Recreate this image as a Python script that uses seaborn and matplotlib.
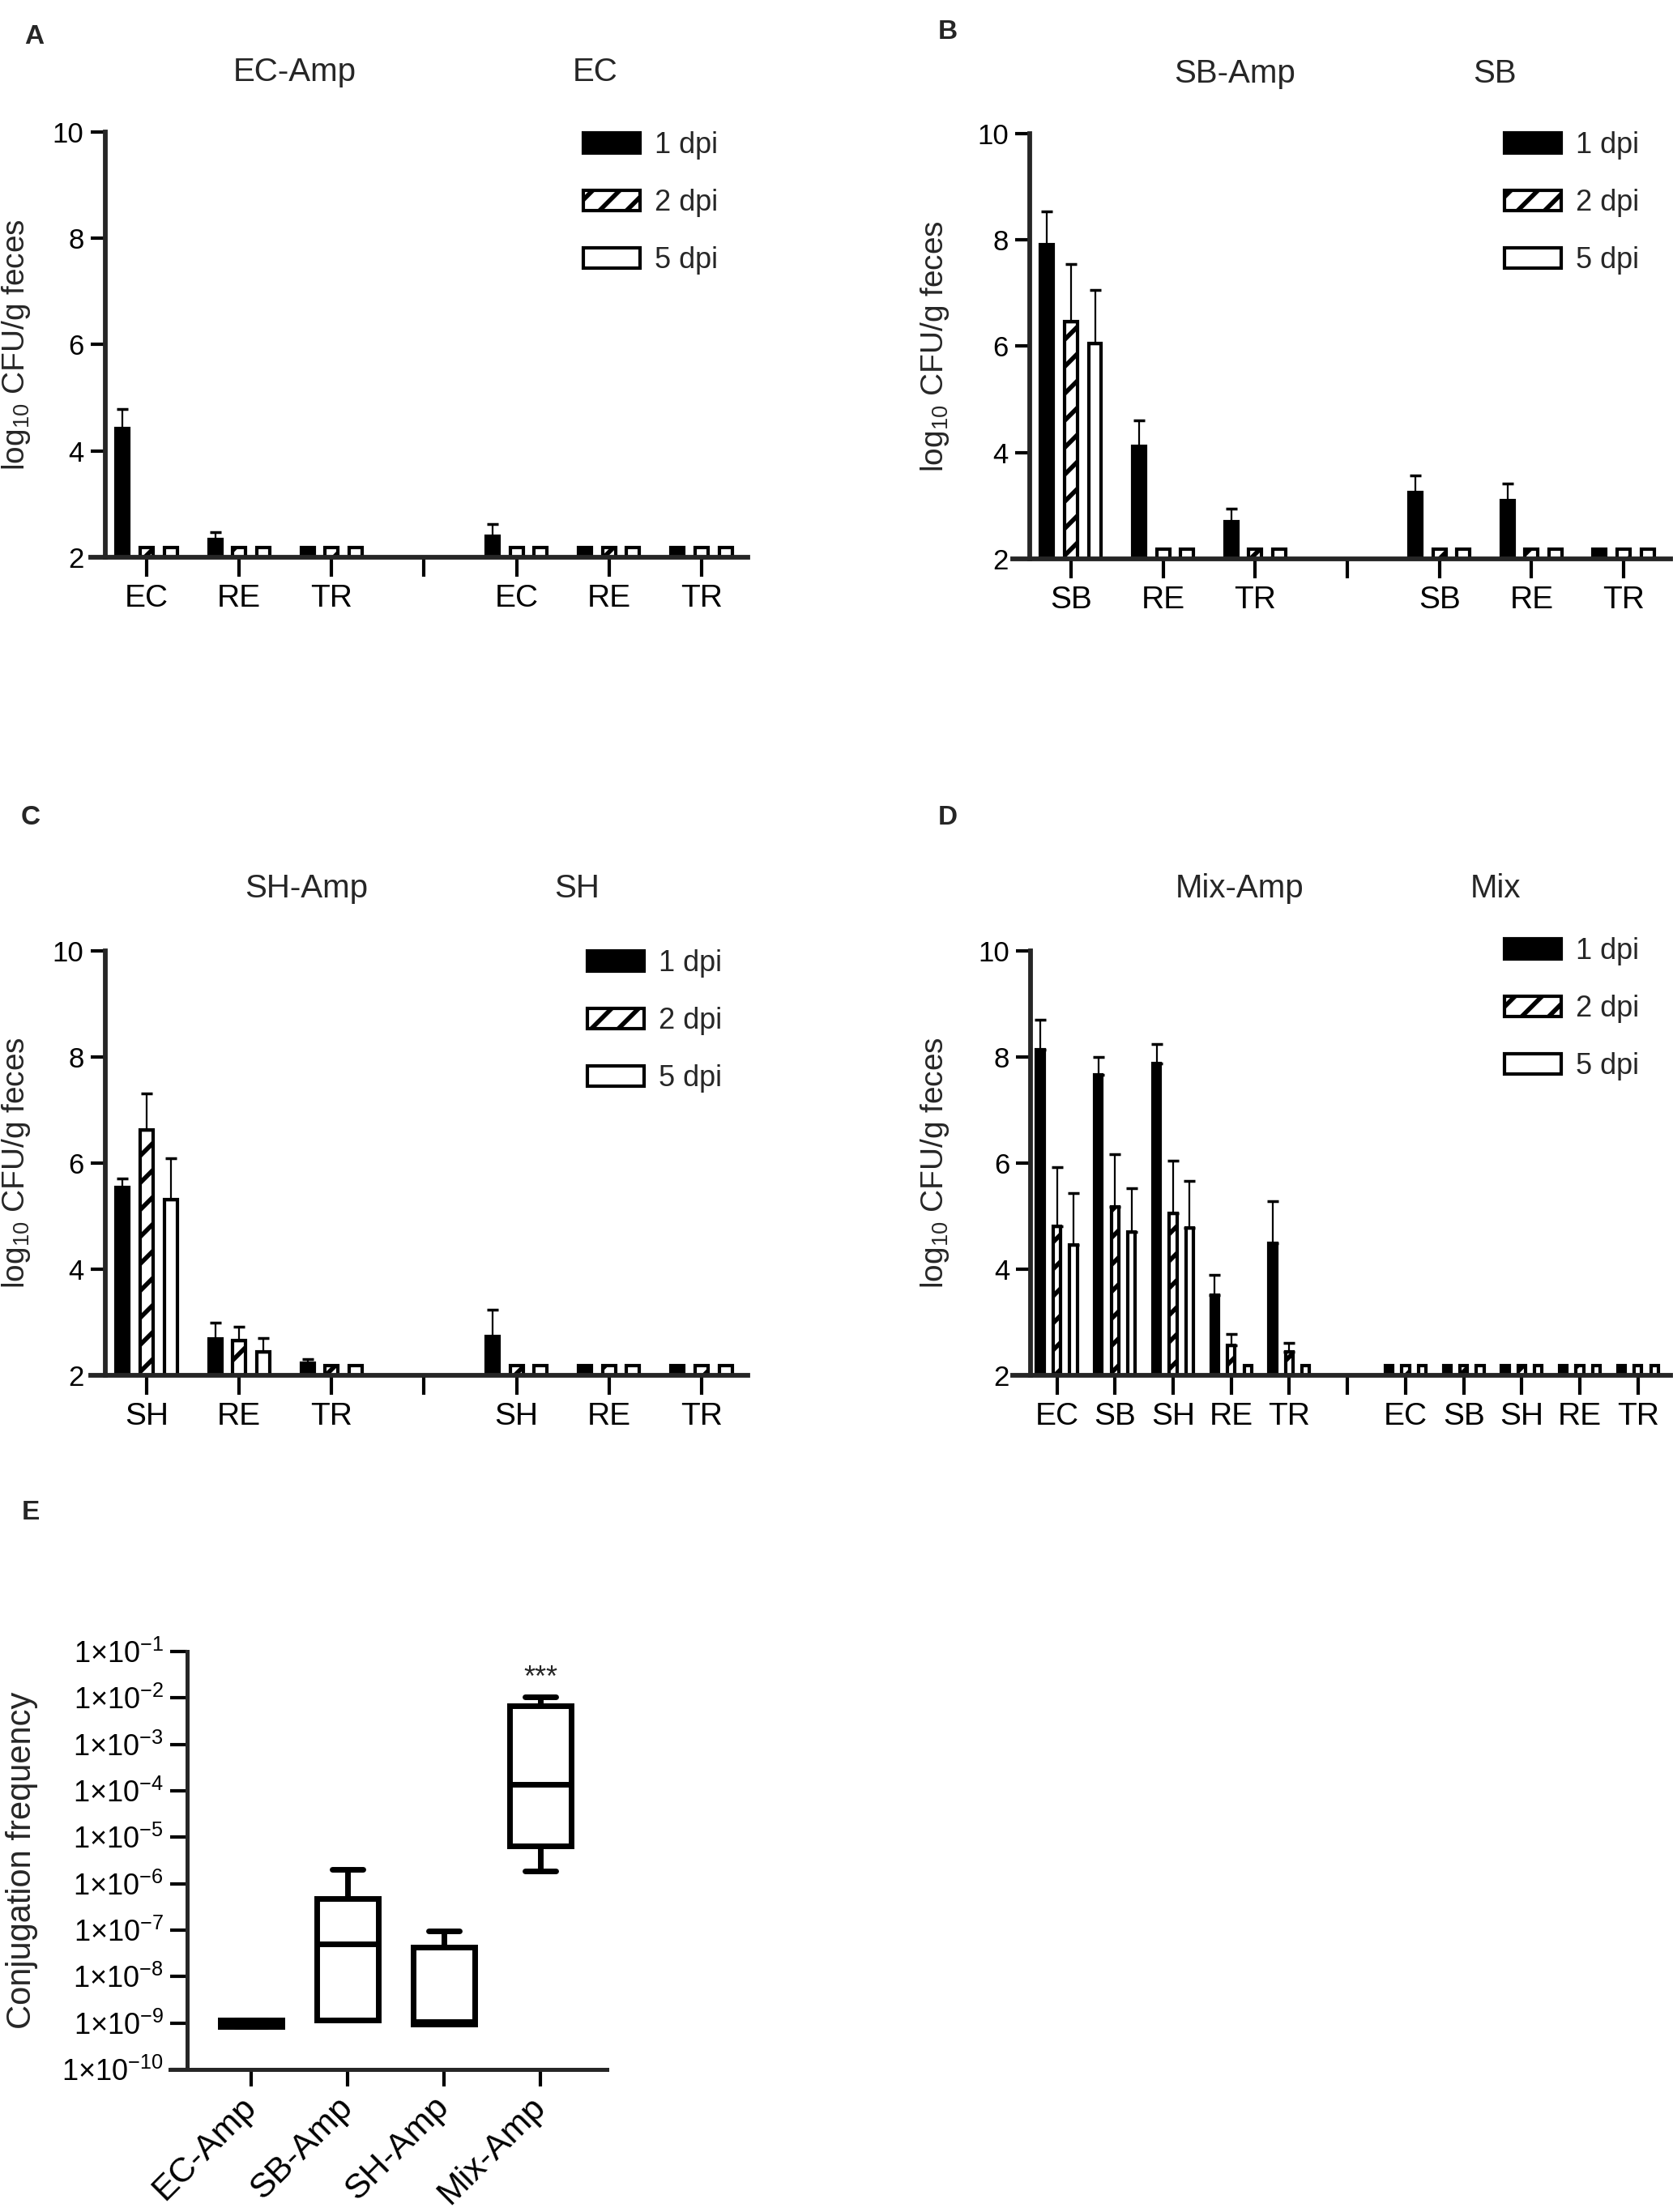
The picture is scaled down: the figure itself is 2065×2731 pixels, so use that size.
import matplotlib
matplotlib.use("Agg")
import matplotlib.pyplot as plt
import matplotlib.transforms as mtransforms
from matplotlib.patches import Patch
from matplotlib.ticker import NullLocator
import pandas as pd
import seaborn as sns

# ---------------- data ----------------
dpi_levels = ["1 dpi", "2 dpi", "5 dpi"]

# Panel A (log10 CFU/g feces, mean and upper SD); None = empty slot
A_ticks = ["EC", "RE", "TR", "", "EC", "RE", "TR"]
A_mean_1 = [4.42, 2.34, 2.18, None, 2.39, 2.18, 2.18]
A_mean_2 = [2.18, 2.18, 2.18, None, 2.18, 2.18, 2.18]
A_mean_5 = [2.18, 2.18, 2.18, None, 2.18, 2.18, 2.18]
A_sd_1 = [0.37, 0.13, 0, None, 0.23, 0, 0]
A_sd_2 = [0, 0, 0, None, 0, 0, 0]
A_sd_5 = [0, 0, 0, None, 0, 0, 0]
A_titles = ["EC-Amp", "EC"]

# Panel B
B_ticks = ["SB", "RE", "TR", "", "SB", "RE", "TR"]
B_mean_1 = [7.91, 4.12, 2.70, None, 3.25, 3.09, 2.18]
B_mean_2 = [6.47, 2.18, 2.18, None, 2.18, 2.18, 2.18]
B_mean_5 = [6.06, 2.18, 2.18, None, 2.18, 2.18, 2.18]
B_sd_1 = [0.63, 0.49, 0.25, None, 0.32, 0.33, 0]
B_sd_2 = [1.07, 0, 0, None, 0, 0, 0]
B_sd_5 = [1.00, 0, 0, None, 0, 0, 0]
B_titles = ["SB-Amp", "SB"]

# Panel C
C_ticks = ["SH", "RE", "TR", "", "SH", "RE", "TR"]
C_mean_1 = [5.54, 2.68, 2.23, None, 2.74, 2.18, 2.18]
C_mean_2 = [6.63, 2.66, 2.18, None, 2.18, 2.18, 2.18]
C_mean_5 = [5.32, 2.45, 2.18, None, 2.18, 2.18, 2.18]
C_sd_1 = [0.17, 0.31, 0.08, None, 0.49, 0, 0]
C_sd_2 = [0.68, 0.25, 0, None, 0, 0, 0]
C_sd_5 = [0.77, 0.25, 0, None, 0, 0, 0]
C_titles = ["SH-Amp", "SH"]

# Panel D
D_ticks = ["EC", "SB", "SH", "RE", "TR", "", "EC", "SB", "SH", "RE", "TR"]
D_mean_1 = [8.14, 7.67, 7.88, 3.51, 4.49, None, 2.18, 2.18, 2.18, 2.18, 2.18]
D_mean_2 = [4.81, 5.18, 5.05, 2.56, 2.44, None, 2.18, 2.18, 2.18, 2.18, 2.18]
D_mean_5 = [4.46, 4.70, 4.78, 2.19, 2.19, None, 2.18, 2.18, 2.18, 2.18, 2.18]
D_sd_1 = [0.56, 0.33, 0.37, 0.39, 0.79, None, 0, 0, 0, 0, 0]
D_sd_2 = [1.11, 0.99, 1.00, 0.22, 0.17, None, 0, 0, 0, 0, 0]
D_sd_5 = [0.97, 0.83, 0.89, 0, 0, None, 0, 0, 0, 0, 0]
D_titles = ["Mix-Amp", "Mix"]

# Panel E: conjugation frequency box summaries (min, q1, median, q3, max)
E_groups = ["EC-Amp", "SB-Amp", "SH-Amp", "Mix-Amp"]
E_min = [8.5e-10, 1.17e-9, 9.5e-10, 1.9e-6]
E_q1 = [8.5e-10, 1.17e-9, 9.5e-10, 6.6e-6]
E_med = [1.0e-9, 5.1e-8, 1.05e-9, 1.4e-4]
E_q3 = [1.17e-9, 4.8e-7, 4.3e-8, 6.8e-3]
E_max = [1.17e-9, 2.0e-6, 9.8e-8, 1.07e-2]
E_yticks = [1e-10, 1e-9, 1e-8, 1e-7, 1e-6, 1e-5, 1e-4, 1e-3, 1e-2, 1e-1]
E_ylabels = ["1×10$^{-%d}$" % k for k in range(10, 0, -1)]

# ---------------- style ----------------
sns.set_theme(style="ticks")
plt.rcParams["font.family"] = ["Liberation Sans", "DejaVu Sans"]
plt.rcParams["mathtext.fontset"] = "custom"
plt.rcParams["mathtext.rm"] = "Liberation Sans"
plt.rcParams["mathtext.it"] = "Liberation Sans:italic"
plt.rcParams["mathtext.bf"] = "Liberation Sans:bold"
plt.rcParams["hatch.linewidth"] = 4
plt.rcParams["hatch.color"] = "#1a1a1a"

W, H = 2065, 2731
fig = plt.figure(figsize=(W / 100, H / 100), dpi=100)
palette = {"1 dpi": "black", "2 dpi": "white", "5 dpi": "white"}


def rect(x0, x1, ytop, ybot):
    return [x0 / W, 1 - ybot / H, (x1 - x0) / W, (ybot - ytop) / H]


def bar_panel(box, spine_frac, xlim, ticks, means, sds, titles, title_x, title_y,
              width, gap, leg_xy, ylab_x):
    ax = fig.add_axes(box)
    rows = []
    for lev, vals in zip(dpi_levels, means):
        for i, v in enumerate(vals):
            if v is not None:
                rows.append({"slot": f"s{i}", "dpi": lev, "value": v})
    df = pd.DataFrame(rows)
    order = [f"s{i}" for i in range(len(ticks))]
    sns.barplot(df, x="slot", y="value", hue="dpi", order=order,
                hue_order=dpi_levels, palette=palette, width=width, gap=gap,
                errorbar=None, edgecolor="black", linewidth=3, saturation=1,
                legend=False, ax=ax)
    conts = list(ax.containers)[:3]
    for k, cont in enumerate(conts):
        for patch in cont:
            if k == 1:
                patch.set_hatch("/")
            xc = patch.get_x() + patch.get_width() / 2
            sd = sds[k][int(round(xc))]
            if sd:
                ax.errorbar(xc, patch.get_height(), yerr=[[0], [sd]],
                            fmt="none", ecolor="black", elinewidth=1.6,
                            capsize=5, capthick=2.5, zorder=5)
    ax.set_ylim(2, 10)
    ax.set_yticks([2, 4, 6, 8, 10])
    ax.set_xlim(*xlim)
    ax.set_xticks(range(len(ticks)))
    ax.set_xticklabels(ticks)
    ax.set_xlabel("")
    ax.set_ylabel("log$_{10}$ CFU/g feces", fontsize=28)
    ax.yaxis.set_label_coords(ylab_x, 0.5)
    sns.despine(ax=ax)
    ax.spines["left"].set_position(("axes", spine_frac))
    for s in ("left", "bottom"):
        ax.spines[s].set_linewidth(4.2)
    ax.tick_params(axis="y", direction="out", length=13, width=3,
                   labelsize=25, pad=6, color="black", labelcolor="black")
    ax.tick_params(axis="x", direction="out", length=17, width=3,
                   labelsize=28, pad=7, color="black", labelcolor="black")
    tr = mtransforms.blended_transform_factory(ax.transData, ax.transAxes)
    for t, tx in zip(titles, title_x):
        ax.text(tx, title_y, t, transform=tr, ha="center", va="baseline",
                fontsize=29)
    handles = [Patch(facecolor="black", edgecolor="black", linewidth=3),
               Patch(facecolor="white", edgecolor="black", linewidth=3, hatch="/"),
               Patch(facecolor="white", edgecolor="black", linewidth=3)]
    ax.legend(handles, dpi_levels, loc="upper left",
              bbox_to_anchor=(leg_xy[0] / W, 1 - leg_xy[1] / H),
              bbox_transform=fig.transFigure, frameon=False, fontsize=26,
              handlelength=1.95, handleheight=0.72, labelspacing=1.0,
              handletextpad=0.5, borderpad=0, borderaxespad=0)
    return ax


bar_panel(rect(112, 923, 163, 688), 0.022, (-0.605, 6.5), A_ticks,
          [A_mean_1, A_mean_2, A_mean_5], [A_sd_1, A_sd_2, A_sd_5],
          A_titles, [1.6, 4.85], 1.12, 0.78, 0.46, (720, 162), -0.089)
bar_panel(rect(1250, 2062, 165, 690), 0.026, (-0.633, 6.51), B_ticks,
          [B_mean_1, B_mean_2, B_mean_5], [B_sd_1, B_sd_2, B_sd_5],
          B_titles, [1.78, 4.6], 1.12, 0.78, 0.46, (1857, 162), -0.094)
bar_panel(rect(112, 923, 1174, 1698), 0.022, (-0.605, 6.5), C_ticks,
          [C_mean_1, C_mean_2, C_mean_5], [C_sd_1, C_sd_2, C_sd_5],
          C_titles, [1.73, 4.65], 1.126, 0.78, 0.46, (725, 1172), -0.089)
bar_panel(rect(1250, 2062, 1174, 1698), 0.0277, (-0.76, 10.56), D_ticks,
          [D_mean_1, D_mean_2, D_mean_5], [D_sd_1, D_sd_2, D_sd_5],
          D_titles, [3.15, 7.55], 1.126, 0.855, 0.55, (1857, 1157), -0.094)

# ---------------- panel E ----------------
axE = fig.add_axes(rect(210, 749, 2039, 2555))
e_rows = []
for g, a, b, c, d, e in zip(E_groups, E_min, E_q1, E_med, E_q3, E_max):
    for v in (a, b, c, d, e):
        e_rows.append({"group": g, "value": v})
dfE = pd.DataFrame(e_rows)
sns.boxplot(dfE, x="group", y="value", order=E_groups, log_scale=True,
            whis=(0, 100), width=0.64, color="white", linecolor="black",
            linewidth=5, showfliers=False, saturation=1, ax=axE)
axE.set_ylim(1e-10, 1e-1)
axE.set_yticks(E_yticks)
axE.set_yticklabels(E_ylabels)
axE.yaxis.set_minor_locator(NullLocator())
axE.set_xlim(-0.84, 3.69)
axE.set_xticks(range(len(E_groups)))
axE.set_xticklabels(E_groups, rotation=45, ha="right", va="center",
                    rotation_mode="anchor")
axE.set_xlabel("")
axE.set_ylabel("Conjugation frequency", fontsize=30)
axE.yaxis.set_label_coords(-0.303, 0.5)
sns.despine(ax=axE)
axE.spines["left"].set_position(("axes", 0.039))
for s in ("left", "bottom"):
    axE.spines[s].set_linewidth(3.6)
axE.tick_params(axis="y", direction="out", length=15, width=3,
                labelsize=26, pad=6, color="black", labelcolor="black")
axE.tick_params(axis="x", direction="out", length=15, width=3,
                labelsize=31, pad=14, color="black", labelcolor="black")
trE = mtransforms.blended_transform_factory(axE.transData, axE.transAxes)
axE.text(3, 0.935, "***", transform=trE, ha="center", va="center", fontsize=26)

# ---------------- panel letters ----------------
for letter, (lx, ly) in zip("ABCDE", [(42, 45), (1170, 40), (38, 1010),
                                      (1170, 1010), (38, 1867)]):
    fig.text(lx / W, 1 - ly / H, letter, ha="center", va="center",
             fontsize=24, fontweight="bold")

fig.savefig("out.png", dpi=100, facecolor="white")
